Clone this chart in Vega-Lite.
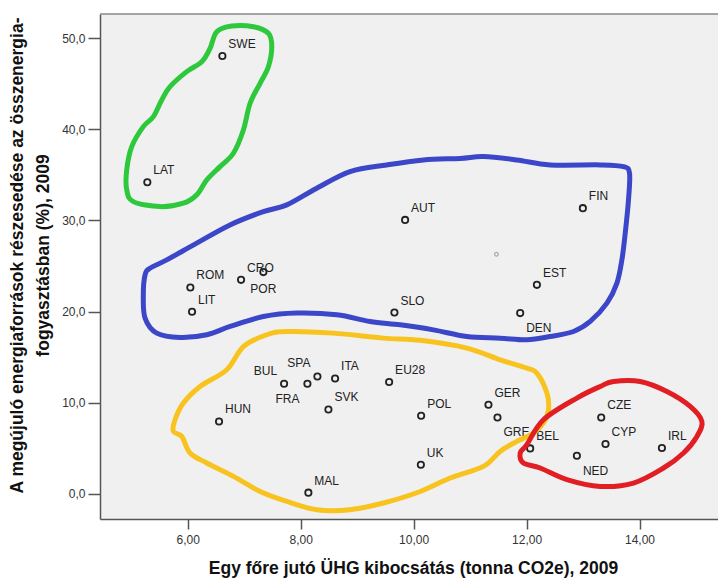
{
  "$schema": "https://vega.github.io/schema/vega-lite/v6.json",
  "width": 618,
  "height": 505,
  "autosize": {"type": "none"},
  "padding": {"left": 100, "top": 14, "right": 0, "bottom": 61},
  "background": "white",
  "config": {
    "view": {"fill": "#f0f0f0", "stroke": null},
    "font": "Liberation Sans",
    "axis": {
      "grid": false,
      "domainColor": "#555555",
      "domainWidth": 1.5,
      "tickColor": "#555555",
      "tickWidth": 1.5,
      "labelFont": "Liberation Sans",
      "labelFontSize": 12,
      "labelColor": "#333333",
      "titleFont": "Liberation Sans",
      "titleFontSize": 17.5,
      "titleFontWeight": "bold",
      "titleColor": "#111111"
    }
  },
  "datasets": {
    "pts": [
      {"code": "SWE", "x": 6.613, "y": 48.06, "pos": "ne"},
      {"code": "LAT", "x": 5.284, "y": 34.20, "pos": "ne"},
      {"code": "AUT", "x": 9.849, "y": 30.06, "pos": "ne"},
      {"code": "FIN", "x": 12.997, "y": 31.35, "pos": "ne"},
      {"code": "EST", "x": 12.183, "y": 22.93, "pos": "ne"},
      {"code": "DEN", "x": 11.887, "y": 19.83, "pos": "se"},
      {"code": "SLO", "x": 9.660, "y": 19.89, "pos": "ne"},
      {"code": "ROM", "x": 6.046, "y": 22.64, "pos": "ne"},
      {"code": "LIT", "x": 6.076, "y": 19.97, "pos": "ne"},
      {"code": "CRO", "x": 6.944, "y": 23.48, "pos": "ne"},
      {"code": "POR", "x": 7.339, "y": 24.33, "pos": "s"},
      {"code": "BUL", "x": 7.706, "y": 12.07, "pos": "nw"},
      {"code": "FRA", "x": 8.119, "y": 12.07, "pos": "sw"},
      {"code": "SPA", "x": 8.296, "y": 12.87, "pos": "nw"},
      {"code": "ITA", "x": 8.609, "y": 12.65, "pos": "ne"},
      {"code": "EU28", "x": 9.566, "y": 12.26, "pos": "ne"},
      {"code": "SVK", "x": 8.491, "y": 9.25, "pos": "ne"},
      {"code": "HUN", "x": 6.554, "y": 7.93, "pos": "ne"},
      {"code": "MAL", "x": 8.136, "y": 0.11, "pos": "ne"},
      {"code": "POL", "x": 10.133, "y": 8.56, "pos": "ne"},
      {"code": "GER", "x": 11.325, "y": 9.77, "pos": "ne"},
      {"code": "GRE", "x": 11.485, "y": 8.37, "pos": "se"},
      {"code": "UK", "x": 10.128, "y": 3.18, "pos": "ne"},
      {"code": "BEL", "x": 12.064, "y": 4.97, "pos": "ne"},
      {"code": "NED", "x": 12.891, "y": 4.17, "pos": "se"},
      {"code": "CZE", "x": 13.322, "y": 8.37, "pos": "ne"},
      {"code": "CYP", "x": 13.398, "y": 5.45, "pos": "ne"},
      {"code": "IRL", "x": 14.397, "y": 5.01, "pos": "ne"}
    ],
    "ref": [
      {"x": 11.467, "y": 26.30}
    ],
    "loops": [
      {"loop": "green", "i": 0, "x": 6.514, "y": 50.72},
      {"loop": "green", "i": 1, "x": 6.779, "y": 51.35},
      {"loop": "green", "i": 2, "x": 7.162, "y": 51.27},
      {"loop": "green", "i": 3, "x": 7.428, "y": 50.55},
      {"loop": "green", "i": 4, "x": 7.488, "y": 49.08},
      {"loop": "green", "i": 5, "x": 7.428, "y": 46.88},
      {"loop": "green", "i": 6, "x": 7.281, "y": 45.06},
      {"loop": "green", "i": 7, "x": 7.104, "y": 42.87},
      {"loop": "green", "i": 8, "x": 6.985, "y": 39.94},
      {"loop": "green", "i": 9, "x": 6.808, "y": 37.38},
      {"loop": "green", "i": 10, "x": 6.572, "y": 35.91},
      {"loop": "green", "i": 11, "x": 6.337, "y": 34.45},
      {"loop": "green", "i": 12, "x": 6.159, "y": 32.81},
      {"loop": "green", "i": 13, "x": 5.922, "y": 31.90},
      {"loop": "green", "i": 14, "x": 5.509, "y": 31.52},
      {"loop": "green", "i": 15, "x": 5.036, "y": 32.07},
      {"loop": "green", "i": 16, "x": 4.919, "y": 33.36},
      {"loop": "green", "i": 17, "x": 4.919, "y": 35.55},
      {"loop": "green", "i": 18, "x": 5.008, "y": 38.11},
      {"loop": "green", "i": 19, "x": 5.213, "y": 40.30},
      {"loop": "green", "i": 20, "x": 5.391, "y": 41.40},
      {"loop": "green", "i": 21, "x": 5.539, "y": 43.23},
      {"loop": "green", "i": 22, "x": 5.686, "y": 44.69},
      {"loop": "green", "i": 23, "x": 5.982, "y": 46.34},
      {"loop": "green", "i": 24, "x": 6.248, "y": 47.43},
      {"loop": "green", "i": 25, "x": 6.395, "y": 48.90},

      {"loop": "blue", "i": 0, "x": 5.213, "y": 21.83},
      {"loop": "blue", "i": 1, "x": 5.244, "y": 24.03},
      {"loop": "blue", "i": 2, "x": 5.332, "y": 24.76},
      {"loop": "blue", "i": 3, "x": 5.628, "y": 25.67},
      {"loop": "blue", "i": 4, "x": 6.159, "y": 27.51},
      {"loop": "blue", "i": 5, "x": 6.749, "y": 29.51},
      {"loop": "blue", "i": 6, "x": 7.339, "y": 30.97},
      {"loop": "blue", "i": 7, "x": 7.754, "y": 31.71},
      {"loop": "blue", "i": 8, "x": 8.285, "y": 33.54},
      {"loop": "blue", "i": 9, "x": 8.875, "y": 35.36},
      {"loop": "blue", "i": 10, "x": 9.525, "y": 36.10},
      {"loop": "blue", "i": 11, "x": 10.174, "y": 36.65},
      {"loop": "blue", "i": 12, "x": 10.824, "y": 36.81},
      {"loop": "blue", "i": 13, "x": 11.237, "y": 37.01},
      {"loop": "blue", "i": 14, "x": 11.828, "y": 36.65},
      {"loop": "blue", "i": 15, "x": 12.418, "y": 36.10},
      {"loop": "blue", "i": 16, "x": 13.304, "y": 36.10},
      {"loop": "blue", "i": 17, "x": 13.717, "y": 35.91},
      {"loop": "blue", "i": 18, "x": 13.823, "y": 35.19},
      {"loop": "blue", "i": 19, "x": 13.805, "y": 32.26},
      {"loop": "blue", "i": 20, "x": 13.747, "y": 28.60},
      {"loop": "blue", "i": 21, "x": 13.688, "y": 25.67},
      {"loop": "blue", "i": 22, "x": 13.600, "y": 23.12},
      {"loop": "blue", "i": 23, "x": 13.423, "y": 20.92},
      {"loop": "blue", "i": 24, "x": 13.127, "y": 18.91},
      {"loop": "blue", "i": 25, "x": 12.831, "y": 17.81},
      {"loop": "blue", "i": 26, "x": 12.418, "y": 17.26},
      {"loop": "blue", "i": 27, "x": 12.005, "y": 16.90},
      {"loop": "blue", "i": 28, "x": 11.532, "y": 17.08},
      {"loop": "blue", "i": 29, "x": 10.942, "y": 17.26},
      {"loop": "blue", "i": 30, "x": 10.351, "y": 17.99},
      {"loop": "blue", "i": 31, "x": 9.761, "y": 18.54},
      {"loop": "blue", "i": 32, "x": 9.229, "y": 18.91},
      {"loop": "blue", "i": 33, "x": 8.640, "y": 19.64},
      {"loop": "blue", "i": 34, "x": 7.931, "y": 19.83},
      {"loop": "blue", "i": 35, "x": 7.339, "y": 19.45},
      {"loop": "blue", "i": 36, "x": 6.749, "y": 18.36},
      {"loop": "blue", "i": 37, "x": 6.337, "y": 17.45},
      {"loop": "blue", "i": 38, "x": 5.864, "y": 17.15},
      {"loop": "blue", "i": 39, "x": 5.451, "y": 17.63},
      {"loop": "blue", "i": 40, "x": 5.244, "y": 19.28},

      {"loop": "yellow", "i": 0, "x": 6.985, "y": 16.16},
      {"loop": "yellow", "i": 1, "x": 7.399, "y": 17.45},
      {"loop": "yellow", "i": 2, "x": 7.754, "y": 17.81},
      {"loop": "yellow", "i": 3, "x": 8.579, "y": 17.63},
      {"loop": "yellow", "i": 4, "x": 9.465, "y": 17.08},
      {"loop": "yellow", "i": 5, "x": 10.115, "y": 16.84},
      {"loop": "yellow", "i": 6, "x": 10.942, "y": 15.99},
      {"loop": "yellow", "i": 7, "x": 11.532, "y": 14.70},
      {"loop": "yellow", "i": 8, "x": 12.005, "y": 13.79},
      {"loop": "yellow", "i": 9, "x": 12.183, "y": 13.24},
      {"loop": "yellow", "i": 10, "x": 12.360, "y": 11.05},
      {"loop": "yellow", "i": 11, "x": 12.388, "y": 9.22},
      {"loop": "yellow", "i": 12, "x": 12.299, "y": 7.76},
      {"loop": "yellow", "i": 13, "x": 12.122, "y": 6.66},
      {"loop": "yellow", "i": 14, "x": 11.828, "y": 5.74},
      {"loop": "yellow", "i": 15, "x": 11.532, "y": 4.64},
      {"loop": "yellow", "i": 16, "x": 11.237, "y": 3.00},
      {"loop": "yellow", "i": 17, "x": 10.647, "y": 1.72},
      {"loop": "yellow", "i": 18, "x": 10.080, "y": 0.16},
      {"loop": "yellow", "i": 19, "x": 9.465, "y": -1.02},
      {"loop": "yellow", "i": 20, "x": 8.875, "y": -1.76},
      {"loop": "yellow", "i": 21, "x": 8.285, "y": -1.76},
      {"loop": "yellow", "i": 22, "x": 7.754, "y": -0.84},
      {"loop": "yellow", "i": 23, "x": 7.281, "y": 0.25},
      {"loop": "yellow", "i": 24, "x": 6.808, "y": 1.90},
      {"loop": "yellow", "i": 25, "x": 6.337, "y": 3.37},
      {"loop": "yellow", "i": 26, "x": 6.041, "y": 4.47},
      {"loop": "yellow", "i": 27, "x": 5.894, "y": 6.29},
      {"loop": "yellow", "i": 28, "x": 5.745, "y": 6.84},
      {"loop": "yellow", "i": 29, "x": 5.775, "y": 8.12},
      {"loop": "yellow", "i": 30, "x": 5.922, "y": 9.95},
      {"loop": "yellow", "i": 31, "x": 6.218, "y": 11.77},
      {"loop": "yellow", "i": 32, "x": 6.691, "y": 13.61},

      {"loop": "red", "i": 0, "x": 12.299, "y": 8.12},
      {"loop": "red", "i": 1, "x": 12.891, "y": 10.50},
      {"loop": "red", "i": 2, "x": 13.304, "y": 11.77},
      {"loop": "red", "i": 3, "x": 13.540, "y": 12.32},
      {"loop": "red", "i": 4, "x": 14.012, "y": 12.32},
      {"loop": "red", "i": 5, "x": 14.485, "y": 11.22},
      {"loop": "red", "i": 6, "x": 14.898, "y": 9.58},
      {"loop": "red", "i": 7, "x": 15.105, "y": 7.93},
      {"loop": "red", "i": 8, "x": 15.017, "y": 6.29},
      {"loop": "red", "i": 9, "x": 14.780, "y": 4.47},
      {"loop": "red", "i": 10, "x": 14.425, "y": 2.82},
      {"loop": "red", "i": 11, "x": 13.894, "y": 1.17},
      {"loop": "red", "i": 12, "x": 13.304, "y": 0.80},
      {"loop": "red", "i": 13, "x": 12.714, "y": 1.54},
      {"loop": "red", "i": 14, "x": 12.241, "y": 2.82},
      {"loop": "red", "i": 15, "x": 11.945, "y": 3.37},
      {"loop": "red", "i": 16, "x": 11.887, "y": 4.47},
      {"loop": "red", "i": 17, "x": 12.005, "y": 5.38}
    ]
  },
  "layer": [
    {
      "data": {"name": "pts"},
      "mark": {"type": "point", "shape": "circle", "filled": false, "stroke": "#222222", "strokeWidth": 1.8, "size": 40, "opacity": 1},
      "encoding": {
        "x": {
          "field": "x", "type": "quantitative",
          "scale": {"domain": [4.446, 15.39], "nice": false, "zero": false},
          "axis": {
            "values": [6, 8, 10, 12, 14],
            "labelExpr": "replace(format(datum.value, '.2f'), '.', ',')",
            "tickSize": 10,
            "labelPadding": 5,
            "title": "Egy főre jutó ÜHG kibocsátás (tonna CO2e), 2009",
            "titleX": 313,
            "titleY": 49,
            "titleAlign": "center",
            "titleBaseline": "middle"
          }
        },
        "y": {
          "field": "y", "type": "quantitative",
          "scale": {"domain": [-2.78, 52.67], "nice": false, "zero": false},
          "axis": {
            "values": [0, 10, 20, 30, 40, 50],
            "labelExpr": "replace(format(datum.value, '.1f'), '.', ',')",
            "tickSize": 12,
            "labelPadding": 3,
            "title": ["A megújuló energiaforrások részesedése az összenergia-", "fogyasztásban (%), 2009"],
            "titleAngle": -90,
            "titleX": -83,
            "titleY": 241,
            "titleAlign": "center",
            "titleBaseline": "middle",
            "titleLineHeight": 26
          }
        }
      }
    },
    {
      "data": {"name": "ref"},
      "mark": {"type": "point", "shape": "circle", "filled": false, "stroke": "#aaaaaa", "strokeWidth": 1.2, "size": 14, "opacity": 1},
      "encoding": {
        "x": {"field": "x", "type": "quantitative"},
        "y": {"field": "y", "type": "quantitative"}
      }
    },
    {
      "data": {"name": "pts"},
      "transform": [{"filter": "datum.pos === 'ne'"}],
      "mark": {"type": "text", "align": "left", "baseline": "alphabetic", "dx": 6, "dy": -8, "fontSize": 12, "color": "#222222"},
      "encoding": {
        "x": {"field": "x", "type": "quantitative"},
        "y": {"field": "y", "type": "quantitative"},
        "text": {"field": "code"}
      }
    },
    {
      "data": {"name": "pts"},
      "transform": [{"filter": "datum.pos === 'se'"}],
      "mark": {"type": "text", "align": "left", "baseline": "alphabetic", "dx": 6, "dy": 19, "fontSize": 12, "color": "#222222"},
      "encoding": {
        "x": {"field": "x", "type": "quantitative"},
        "y": {"field": "y", "type": "quantitative"},
        "text": {"field": "code"}
      }
    },
    {
      "data": {"name": "pts"},
      "transform": [{"filter": "datum.pos === 'nw'"}],
      "mark": {"type": "text", "align": "right", "baseline": "alphabetic", "dx": -7, "dy": -9, "fontSize": 12, "color": "#222222"},
      "encoding": {
        "x": {"field": "x", "type": "quantitative"},
        "y": {"field": "y", "type": "quantitative"},
        "text": {"field": "code"}
      }
    },
    {
      "data": {"name": "pts"},
      "transform": [{"filter": "datum.pos === 'sw'"}],
      "mark": {"type": "text", "align": "right", "baseline": "alphabetic", "dx": -8, "dy": 19, "fontSize": 12, "color": "#222222"},
      "encoding": {
        "x": {"field": "x", "type": "quantitative"},
        "y": {"field": "y", "type": "quantitative"},
        "text": {"field": "code"}
      }
    },
    {
      "data": {"name": "pts"},
      "transform": [{"filter": "datum.pos === 's'"}],
      "mark": {"type": "text", "align": "center", "baseline": "alphabetic", "dx": 0, "dy": 21, "fontSize": 12, "color": "#222222"},
      "encoding": {
        "x": {"field": "x", "type": "quantitative"},
        "y": {"field": "y", "type": "quantitative"},
        "text": {"field": "code"}
      }
    },
    {
      "data": {"name": "loops"},
      "mark": {"type": "line", "interpolate": "cardinal-closed", "strokeWidth": 5, "strokeCap": "round", "strokeJoin": "round"},
      "encoding": {
        "x": {"field": "x", "type": "quantitative"},
        "y": {"field": "y", "type": "quantitative"},
        "color": {
          "field": "loop", "type": "nominal",
          "scale": {"domain": ["green", "blue", "yellow", "red"], "range": ["#2ec83c", "#3c46c8", "#f8c31e", "#e11e23"]},
          "legend": null
        },
        "order": {"field": "i", "type": "quantitative"}
      }
    },
    {
      "data": {"values": [{}]},
      "mark": {"type": "rule", "color": "#888888", "strokeWidth": 1.5},
      "encoding": {
        "y": {"datum": 52.67, "type": "quantitative"}
      }
    }
  ]
}
